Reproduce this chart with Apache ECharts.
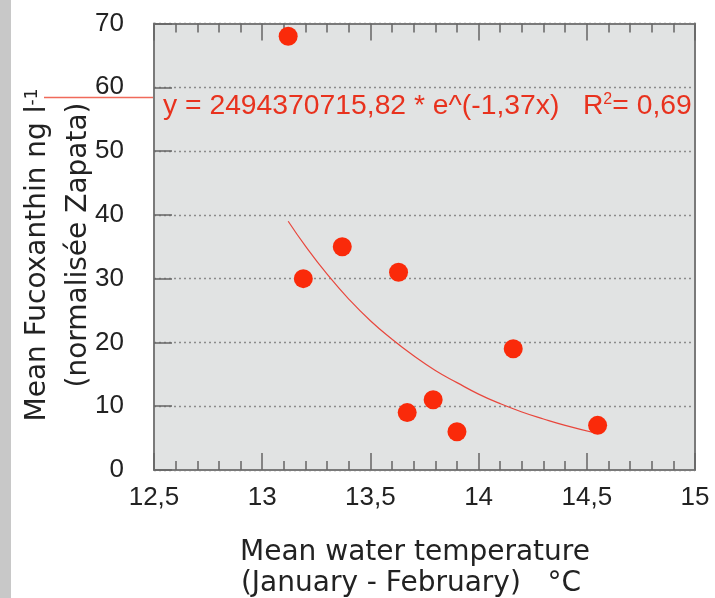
<!DOCTYPE html>
<html><head><meta charset="utf-8">
<script src="https://cdn.jsdelivr.net/npm/echarts@6/dist/echarts.min.js"></script>
<style>html,body{margin:0;padding:0;background:#fff}#c{width:715px;height:598px}</style>
</head><body><div id="c"></div>
<script>
// Observed points
const temperature = [13.12, 13.19, 13.37, 13.63, 13.67, 13.79, 13.90, 14.16, 14.55];
const fucoxanthin = [68, 30, 35, 31, 9, 11, 6, 19, 7];
// Trend curve
const fitTemperature = [13.12, 13.2, 13.3, 13.4, 13.5, 13.6, 13.7, 13.8, 13.9, 14.0, 14.1, 14.2, 14.3, 14.4, 14.54];
const fitFucoxanthin = [39.0, 35.1, 30.7, 26.8, 23.4, 20.5, 17.9, 15.6, 13.7, 11.9, 10.4, 9.1, 8.0, 7.0, 5.8];
// Axis ranges / ticks
const xMin = 12.5, xMax = 15, xStep = 0.5;
const yMin = 0, yMax = 70, yStep = 10;
// Texts
const equationMain = 'y = 2494370715,82 * e^(-1,37x)   R';
const equationSup = '2';
const equationTail = '= 0,69';
const yTitle1 = 'Mean Fucoxanthin ng l';
const yTitle1Sup = '-1';
const yTitle2 = '(normalisée Zapata)';
const xTitle1 = 'Mean water temperature';
const xTitle2 = '(January - February)   °C';

const chart = echarts.init(document.getElementById('c'));
const tickColor = '#666';
const frameColor = '#7a7a7a';
const labelFont = {fontSize: 26, fontFamily: 'Liberation Sans', color: '#222'};
const titleFont = 'DejaVu Sans';

function xAxisCfg(pos, showLabel) {
  return {
    type: 'value', position: pos, min: xMin, max: xMax, interval: xStep,
    axisLine: {show: true, onZero: false, lineStyle: {color: frameColor, width: 2}},
    axisTick: {show: true, inside: false, length: -17, lineStyle: {color: tickColor, width: 1.5}},
    minorTick: {show: true, splitNumber: 5, length: -9, lineStyle: {color: tickColor, width: 1.5}},
    axisLabel: Object.assign({show: showLabel, margin: 15,
      formatter: v => String(v).replace('.', ',')}, labelFont),
    splitLine: {show: false}, minorSplitLine: {show: false}
  };
}

chart.setOption({
  animation: false,
  grid: {left: 154, right: 20, top: 23.5, bottom: 128, show: true,
         backgroundColor: '#e1e3e3', borderWidth: 0, containLabel: false, outerBoundsMode: 'none'},
  xAxis: [xAxisCfg('bottom', true), xAxisCfg('top', false)],
  yAxis: [{
    type: 'value', position: 'left', min: yMin, max: yMax, interval: yStep,
    axisLine: {show: true, onZero: false, lineStyle: {color: frameColor, width: 2}},
    axisTick: {show: true, inside: false, length: -18, lineStyle: {color: tickColor, width: 1.5}},
    axisLabel: Object.assign({margin: 30}, labelFont),
    splitLine: {show: true, lineStyle: {color: '#8c8c8c', width: 1.3, type: [2, 3]}}
  }, {
    type: 'value', position: 'right', min: yMin, max: yMax, interval: yStep,
    axisLine: {show: true, onZero: false, lineStyle: {color: frameColor, width: 2}},
    axisTick: {show: false}, axisLabel: {show: false}, splitLine: {show: false}
  }],
  series: [{
    type: 'line', xAxisIndex: 0, yAxisIndex: 0,
    data: fitTemperature.map((t, i) => [t, fitFucoxanthin[i]]),
    showSymbol: false, symbol: 'none', smooth: true,
    lineStyle: {color: '#e8473d', width: 1.2}, z: 2
  }, {
    type: 'scatter', xAxisIndex: 0, yAxisIndex: 0,
    data: temperature.map((t, i) => [t, fucoxanthin[i]]),
    symbolSize: 19, itemStyle: {color: '#fa2a0a', opacity: 1}, z: 3
  }],
  graphic: [
    {type: 'rect', shape: {x: 0, y: 0, width: 11, height: 598}, style: {fill: '#c8c8c8'}, silent: true},
    {type: 'line', shape: {x1: 44, y1: 97.5, x2: 153, y2: 97.5}, style: {stroke: '#f06a5a', lineWidth: 1.5}, silent: true},
    {type: 'text', x: 163, y: 106, z: 100,
     style: {text: equationMain + '{sup|' + equationSup + '}' + equationTail,
             fontSize: 28.3, fontFamily: 'Liberation Sans', fill: '#e8321e',
             align: 'left', verticalAlign: 'middle',
             rich: {sup: {fontSize: 16, fontFamily: 'Liberation Sans', fill: '#e8321e', verticalAlign: 'top'}}}},
    {type: 'text', x: 38, y: 255, rotation: Math.PI / 2, z: 100,
     style: {text: yTitle1 + '{sup|' + yTitle1Sup + '}',
             fontSize: 28, fontFamily: titleFont, fill: '#222', align: 'center', verticalAlign: 'middle',
             rich: {sup: {fontSize: 17, fontFamily: titleFont, fill: '#222', verticalAlign: 'top'}}}},
    {type: 'text', x: 79, y: 245, rotation: Math.PI / 2, z: 100,
     style: {text: yTitle2, fontSize: 28, fontFamily: titleFont, fill: '#222', align: 'center', verticalAlign: 'middle'}},
    {type: 'text', x: 415, y: 553, z: 100,
     style: {text: xTitle1, fontSize: 28, fontFamily: titleFont, fill: '#222', align: 'center', verticalAlign: 'middle'}},
    {type: 'text', x: 411, y: 584, z: 100,
     style: {text: xTitle2, fontSize: 28, fontFamily: titleFont, fill: '#222', align: 'center', verticalAlign: 'middle'}}
  ]
});
</script>
</body></html>
